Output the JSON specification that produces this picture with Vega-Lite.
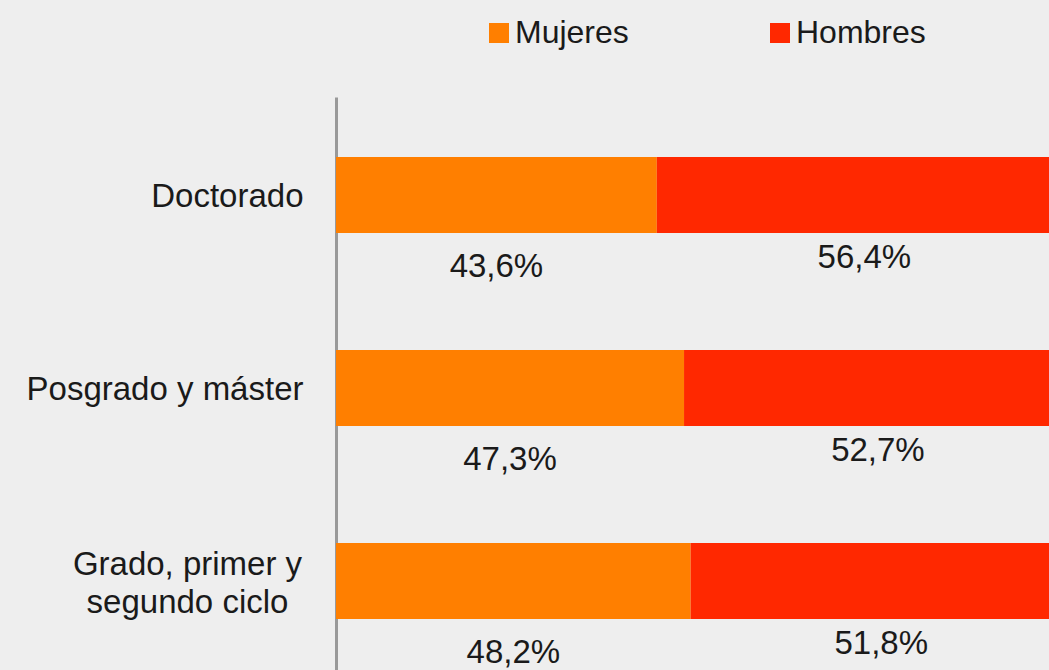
{
  "$schema": "https://vega.github.io/schema/vega-lite/v6.json",
  "width": 713,
  "height": 573,
  "autosize": {"type": "none"},
  "padding": {"left": 336, "top": 97, "right": 0, "bottom": 0},
  "background": "#EEEEEE",
  "config": {
    "view": {"stroke": null},
    "font": "Liberation Sans",
    "text": {"font": "Liberation Sans"}
  },
  "data": {
    "values": [
      {"nivel": "Doctorado", "sexo": "Mujeres", "pct": 43.6, "etiqueta": "43,6%"},
      {"nivel": "Doctorado", "sexo": "Hombres", "pct": 56.4, "etiqueta": "56,4%"},
      {"nivel": "Posgrado y máster", "sexo": "Mujeres", "pct": 47.3, "etiqueta": "47,3%"},
      {"nivel": "Posgrado y máster", "sexo": "Hombres", "pct": 52.7, "etiqueta": "52,7%"},
      {"nivel": "Grado, primer y segundo ciclo", "sexo": "Mujeres", "pct": 48.2, "etiqueta": "48,2%"},
      {"nivel": "Grado, primer y segundo ciclo", "sexo": "Hombres", "pct": 51.8, "etiqueta": "51,8%"}
    ]
  },
  "transform": [
    {"stack": "pct", "groupby": ["nivel"], "sort": [{"field": "sexo", "order": "descending"}], "as": ["x0", "x1"]}
  ],
  "encoding": {
    "y": {
      "field": "nivel",
      "type": "nominal",
      "sort": ["Doctorado", "Posgrado y máster", "Grado, primer y segundo ciclo"],
      "scale": {"paddingInner": 0.606, "paddingOuter": 0.2876, "align": 0.54},
      "axis": {
        "title": null,
        "ticks": false,
        "domainColor": "#999999",
        "domainWidth": 3,
        "labelFontSize": 33,
        "labelColor": "#1a1a1a",
        "labelPadding": {"condition": {"test": "datum.value == 'Grado, primer y segundo ciclo'", "value": 149}, "value": 33},
        "labelAlign": {"condition": {"test": "datum.value == 'Grado, primer y segundo ciclo'", "value": "center"}, "value": "right"},
        "labelLimit": 400,
        "labelLineHeight": 38,
        "labelOffset": {"condition": {"test": "datum.value == 'Grado, primer y segundo ciclo'", "value": -16}, "value": 2},
        "labelExpr": "datum.value == 'Grado, primer y segundo ciclo' ? ['Grado, primer y', 'segundo ciclo'] : datum.value"
      }
    }
  },
  "layer": [
    {
      "mark": {"type": "bar", "clip": true},
      "encoding": {
        "x": {"field": "x0", "type": "quantitative", "scale": {"domain": [0, 96.9], "nice": false, "zero": true}, "axis": null},
        "x2": {"field": "x1"},
        "color": {
          "field": "sexo",
          "type": "nominal",
          "scale": {"domain": ["Mujeres", "Hombres"], "range": ["#FF7F00", "#FF2800"]},
          "legend": {
            "title": null,
            "orient": "none",
            "direction": "horizontal",
            "legendX": 147,
            "legendY": -80,
            "padding": 0,
            "symbolType": "square",
            "symbolSize": 400,
            "symbolStrokeWidth": 0,
            "symbolOpacity": 1,
            "labelFontSize": 32,
            "labelColor": "#1a1a1a",
            "labelOffset": 0,
            "labelLimit": 300,
            "columnPadding": 135
          }
        }
      }
    },
    {
      "transform": [
        {"filter": "datum.sexo == 'Mujeres'"},
        {"fold": ["x0", "x1"], "as": ["extremo", "valor"]},
        {"aggregate": [{"op": "mean", "field": "valor", "as": "centro"}], "groupby": ["nivel", "sexo", "etiqueta"]}
      ],
      "mark": {"type": "text", "fontSize": 33, "color": "#1a1a1a", "dy": 72, "baseline": "middle"},
      "encoding": {
        "x": {"field": "centro", "type": "quantitative"},
        "text": {"field": "etiqueta"}
      }
    },
    {
      "transform": [
        {"filter": "datum.sexo == 'Hombres'"},
        {"fold": ["x0", "x1"], "as": ["extremo", "valor"]},
        {"aggregate": [{"op": "mean", "field": "valor", "as": "centro"}], "groupby": ["nivel", "sexo", "etiqueta"]}
      ],
      "mark": {"type": "text", "fontSize": 33, "color": "#1a1a1a", "dy": 63, "baseline": "middle"},
      "encoding": {
        "x": {"field": "centro", "type": "quantitative"},
        "text": {"field": "etiqueta"}
      }
    }
  ]
}
